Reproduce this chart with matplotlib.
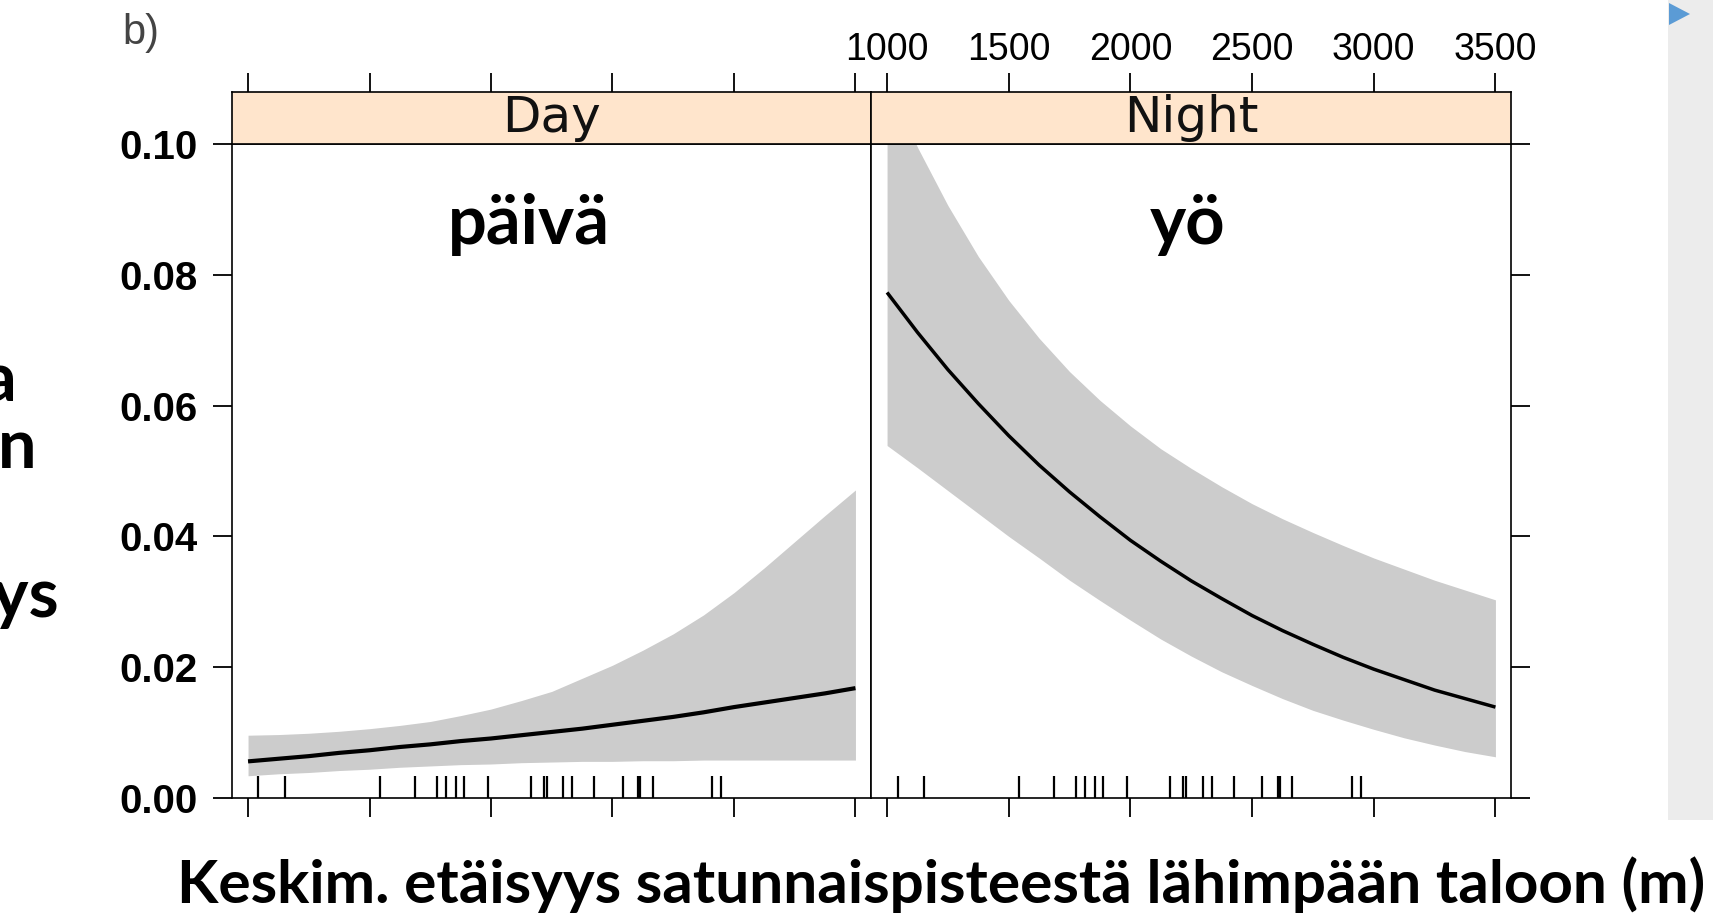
"""Probability vs. mean distance to nearest house, day and night panels.

Lattice-style two-panel figure redrawn with matplotlib (Agg backend).
"""

import matplotlib

matplotlib.use("Agg")
import matplotlib.pyplot as plt  # noqa: E402
from matplotlib.patches import Polygon, Rectangle  # noqa: E402

# --- data ---------------------------------------------------------------------
DIST = [1000, 1125, 1250, 1375, 1500, 1625, 1750, 1875, 2000, 2125, 2250,
        2375, 2500, 2625, 2750, 2875, 3000, 3125, 3250, 3375, 3500]

DAY_FIT = [0.0056, 0.0060, 0.0064, 0.0069, 0.0073, 0.0078, 0.0082, 0.0087, 0.0091, 0.0096, 0.0101,
           0.0106, 0.0112, 0.0118, 0.0124, 0.0131, 0.0139, 0.0146, 0.0153, 0.0160, 0.0168]
DAY_LOWER = [0.0034, 0.0037, 0.0039, 0.0042, 0.0044, 0.0047, 0.0049, 0.0051, 0.0052, 0.0054, 0.0055,
             0.0056, 0.0056, 0.0057, 0.0057, 0.0058, 0.0058, 0.0058, 0.0058, 0.0058, 0.0058]
DAY_UPPER = [0.0096, 0.0097, 0.0099, 0.0102, 0.0106, 0.0111, 0.0117, 0.0126, 0.0136, 0.0149, 0.0163,
             0.0183, 0.0203, 0.0226, 0.0251, 0.0280, 0.0314, 0.0352, 0.0392, 0.0432, 0.0471]

NIGHT_FIT = [0.0773, 0.0712, 0.0655, 0.0603, 0.0554, 0.0509, 0.0468, 0.0430, 0.0394, 0.0362, 0.0332,
             0.0305, 0.0279, 0.0256, 0.0235, 0.0215, 0.0197, 0.0181, 0.0165, 0.0152, 0.0139]
NIGHT_LOWER = [0.0539, 0.0505, 0.0470, 0.0435, 0.0400, 0.0367, 0.0333, 0.0302, 0.0272, 0.0243, 0.0217,
               0.0193, 0.0172, 0.0152, 0.0134, 0.0119, 0.0105, 0.0092, 0.0081, 0.0071, 0.0063]
NIGHT_UPPER = [0.1096, 0.0995, 0.0906, 0.0828, 0.0761, 0.0703, 0.0652, 0.0608, 0.0569, 0.0534, 0.0504,
               0.0476, 0.0450, 0.0427, 0.0406, 0.0386, 0.0367, 0.0350, 0.0333, 0.0318, 0.0303]

# observed distances (rug), same in both panels
RUG = [1043, 1153, 1542, 1688, 1776, 1814, 1854, 1888, 1987, 2164, 2218, 2230,
       2298, 2334, 2424, 2542, 2606, 2613, 2665, 2910, 2946]

PANELS = ["Day", "Night"]
PANEL_NOTES = ["päivä", "yö"]
Y_TICKS = [0.00, 0.02, 0.04, 0.06, 0.08, 0.10]
Y_TICK_LABELS = ["0.00", "0.02", "0.04", "0.06", "0.08", "0.10"]
X_TICKS = [1000, 1500, 2000, 2500, 3000, 3500]
X_TICK_LABELS = ["1000", "1500", "2000", "2500", "3000", "3500"]
XLABEL = "Keskim. etäisyys satunnaispisteestä lähimpään taloon (m)"
YLABEL_TAILS = ["a", "n", "yys"]

# --- layout (pixels of the 1713x915 canvas) ----------------------------------
W, H = 1713, 915
BAND = "#cccccc"
STRIP = "#ffe5cc"
TXT_FONT = ["Lato", "DejaVu Sans"]
XLIM = (934, 3564)


def box(x0, y0, x1, y1):
    """Pixel rectangle (top-left origin) -> figure fraction [l, b, w, h]."""
    return [x0 / W, 1 - y1 / H, (x1 - x0) / W, (y1 - y0) / H]


def fit_width(txt, target_px):
    fig.canvas.draw()
    w = txt.get_window_extent().width
    txt.set_fontsize(txt.get_fontsize() * target_px / w)


fig = plt.figure(figsize=(W / 100, H / 100), dpi=100)

panel_x = [(232, 871), (871, 1511)]
series = [(DAY_FIT, DAY_LOWER, DAY_UPPER, 3.0), (NIGHT_FIT, NIGHT_LOWER, NIGHT_UPPER, 2.5)]

for i, ((x0, x1), (fit, lo, hi, lw)) in enumerate(zip(panel_x, series)):
    ax = fig.add_axes(box(x0, 144, x1, 798))
    ax.fill_between(DIST, lo, hi, color=BAND, lw=0)
    ax.plot(DIST, fit, color="black", lw=lw, solid_capstyle="butt")
    ax.vlines(RUG, 0, 0.034, transform=ax.get_xaxis_transform(), color="black", lw=1.6)
    ax.set_xlim(*XLIM)
    ax.set_ylim(0, 0.10)
    ax.set_xticks(X_TICKS)
    ax.set_yticks(Y_TICKS)
    ax.tick_params(direction="out", length=13.5, width=1.3, color="black")
    ax.tick_params(axis="x", bottom=True, top=False, labelbottom=False)
    if i == 0:
        ax.set_yticklabels(Y_TICK_LABELS, fontsize=29, fontweight="bold",
                           family="Liberation Sans")
        ax.tick_params(axis="y", left=True, right=False, pad=11.5)
    else:
        ax.tick_params(axis="y", left=False, right=True, labelleft=False)
    for sp in ax.spines.values():
        sp.set_linewidth(1.2)

    # strip with panel name, ticks above it
    st = fig.add_axes(box(x0, 92, x1, 144), facecolor=STRIP)
    st.set_xlim(*XLIM)
    st.set_xticks(X_TICKS)
    st.set_yticks([])
    st.tick_params(axis="x", direction="out", length=13.5, width=1.3,
                   bottom=False, labelbottom=False, top=True, labeltop=(i == 1), pad=4)
    if i == 1:
        st.set_xticklabels(X_TICK_LABELS, fontsize=27, family="Liberation Sans")
    for sp in st.spines.values():
        sp.set_linewidth(1.2)
    st.text(0.5, 0.5, PANELS[i], transform=st.transAxes, ha="center", va="center",
            fontsize=36, family="DejaVu Sans", color="#111111")

# annotations inside the panels
notes = []
for note, cx in zip(PANEL_NOTES, [529, 1188]):
    notes.append(fig.text(cx / W, 1 - 244 / H, note, ha="center", va="baseline",
                          fontsize=40, fontweight="bold", family=TXT_FONT))
fit_width(notes[0], 162)
notes[1].set_fontsize(notes[0].get_fontsize())
note_size = notes[0].get_fontsize()

xl = fig.text(941 / W, 1 - 903 / H, XLABEL, ha="center", va="baseline",
              fontsize=36, fontweight="bold", family=TXT_FONT)
fit_width(xl, 1526)

# clipped ends of the y label at the left edge
for tail, rx, base in zip(YLABEL_TAILS, [16, 36, 60], [402, 468, 617]):
    fig.text(rx / W, 1 - base / H, tail, ha="right", va="baseline",
             fontsize=note_size, fontweight="bold", family=TXT_FONT)

fig.text(122 / W, 1 - 44 / H, "b)", ha="left", va="baseline", fontsize=30,
         family="Liberation Sans", color="#444444")

# slide frame remnants on the right
fig.add_artist(Rectangle((1668 / W, 1 - 820 / H), 45 / W, 820 / H,
                         transform=fig.transFigure, color="#ececec", lw=0))
fig.add_artist(Polygon([(1669 / W, 1 - 3 / H), (1690 / W, 1 - 14 / H), (1669 / W, 1 - 25 / H)],
                       closed=True, transform=fig.transFigure, color="#5b9bd5", lw=0))

fig.savefig("out.png", dpi=100)
